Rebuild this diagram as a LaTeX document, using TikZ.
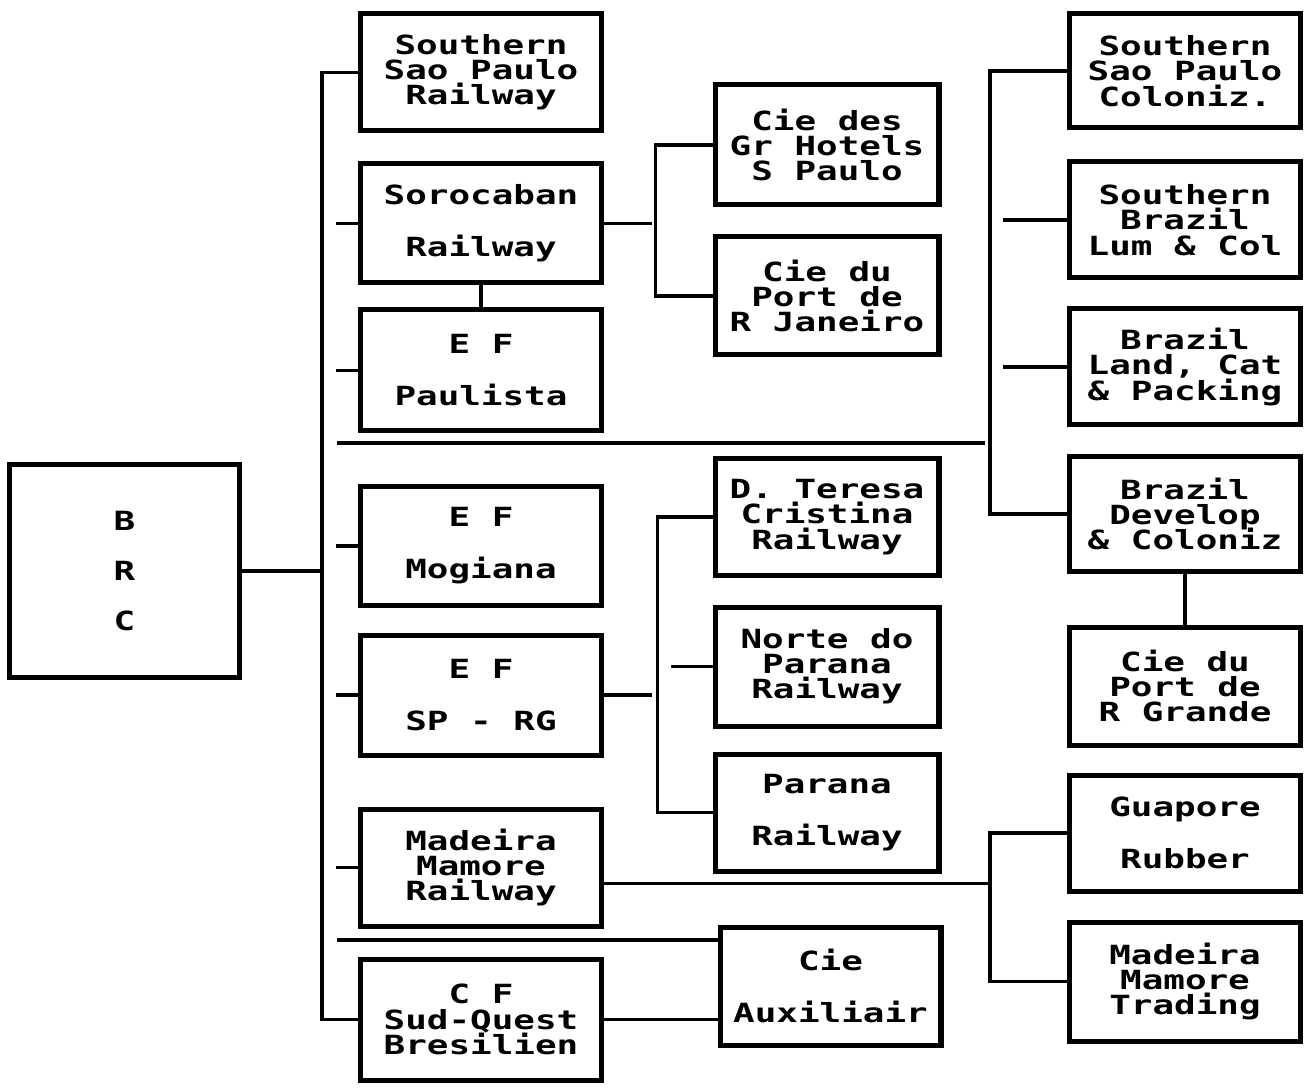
\documentclass[tikz,border=0pt]{standalone}
\usepackage{fontspec}
\newfontfamily\pix{DejaVu Sans Mono}[FakeStretch=1.36]
\newcommand\threefont{\pix\bfseries\fontsize{13.2pt}{12.6pt}\selectfont}
\newcommand\twofont{\pix\bfseries\fontsize{13.2pt}{26pt}\selectfont}
\newcommand\brcfnt{\pix\bfseries\fontsize{13.2pt}{25pt}\selectfont}
\tikzset{
  box/.style={draw, line width=2.5pt, inner sep=0pt, align=center, font=\threefont,
    path picture={\draw[line width=3pt] (path picture bounding box.north east) -- (path picture bounding box.south east);}},
  two/.style={font=\twofont},
  brcfont/.style={font=\brcfnt},
  conn/.style={line width=1.6pt},
}
\newcommand\bx[7][]{\node[box,#1,minimum width=#5*0.5pt,minimum height=#6*0.5pt] (#2) at (#3,#4) {#7};}
\begin{document}
\lineskiplimit=-100pt\relax
\begin{tikzpicture}[x=0.5pt,y=-0.5pt]
\fill[white] (0,0) rectangle (1308,1091);
\useasboundingbox (0,0) rectangle (1308,1091);
% root
\bx[brcfont]{brc}{124.5}{571}{230}{213}{B\\R\\C}
% left column
\bx{ssr}{481}{72.5}{241}{117}{Southern\\Sao Paulo\\Railway}
\bx[two]{sor}{481}{223.5}{241}{119}{Sorocaban\\Railway}
\bx[two]{pau}{481}{370.5}{241}{121}{E F\\Paulista}
\bx[two]{mog}{481}{546}{241}{118}{E F\\Mogiana}
\bx[two]{sprg}{481}{695}{241}{120}{E F\\SP - RG}
\bx{mmr}{481}{867.5}{241}{117}{Madeira\\Mamore\\Railway}
\bx{cfso}{481}{1019.5}{241}{121}{C F\\Sud-Quest\\Bresilien}
% middle column
\bx{gh}{827}{145}{224}{120}{Cie des\\Gr Hotels\\S Paulo}
\bx{prj}{827}{296}{224}{118}{Cie du\\Port de\\R Janeiro}
\bx{dtc}{827}{517}{224}{116}{D. Teresa\\Cristina\\Railway}
\bx{npr}{827}{666.5}{224}{119}{Norte do\\Parana\\Railway}
\bx[two]{par}{827}{812.5}{224}{117}{Parana\\Railway}
\bx[two]{aux}{830.5}{986}{221}{118}{Cie\\Auxiliair}
% right column
\bx{sspc}{1185}{71}{231}{114}{Southern\\Sao Paulo\\Coloniz.}
\bx{sblc}{1185}{220}{231}{116}{Southern\\Brazil\\Lum \& Col}
\bx{blcp}{1185}{367}{231}{116}{Brazil\\Land, Cat\\\& Packing}
\bx{bdc}{1185}{514}{231}{114}{Brazil\\Develop\\\& Coloniz}
\bx{cprg}{1185}{686}{231}{118}{Cie du\\Port de\\R Grande}
\bx[two]{gr}{1185}{833}{231}{116}{Guapore\\Rubber}
\bx{mmt}{1185}{981.5}{231}{119}{Madeira\\Mamore\\Trading}
% bus
\coordinate (busT) at (322,72.5);
\draw[conn] (ssr.west) -- (busT) -- (busT |- cfso.west) -- (cfso.west);
\draw[conn] (brc.east) -- (brc.east -| busT);
\foreach \n in {sor,pau,mog,sprg,mmr} \draw[conn] (\n.west) -- ++(-22,0);
\draw[conn] (sor.south) -- (pau.north);
% middle brackets
\draw[conn] (sor.east) -- ++(48,0);
\draw[conn] (gh.west) -- ++(-57,0) |- (prj.west);
\draw[conn] (sprg.east) -- ++(48,0);
\draw[conn] (dtc.west) -- ++(-55,0) |- (par.west);
\draw[conn] (npr.west) -- ++(-42,0);
\draw[conn] (cfso.east) -- (aux.west |- cfso.east);
% right brackets
\draw[conn] (sspc.west) -- ++(-77,0) |- (bdc.west);
\draw[conn] (sblc.west) -- ++(-64,0);
\draw[conn] (blcp.west) -- ++(-64,0);
\draw[conn] (bdc.south) -- (cprg.north);
\draw[conn] (gr.west) -- ++(-77,0) |- (mmt.west);
\draw[conn] ([yshift=-8pt]mmr.east) -- ++(384,0);
% separators
\draw[conn] (337,443) -- (985,443);
\draw[conn] (337,940) -- (aux.west |- 0,940);
\end{tikzpicture}
\end{document}
